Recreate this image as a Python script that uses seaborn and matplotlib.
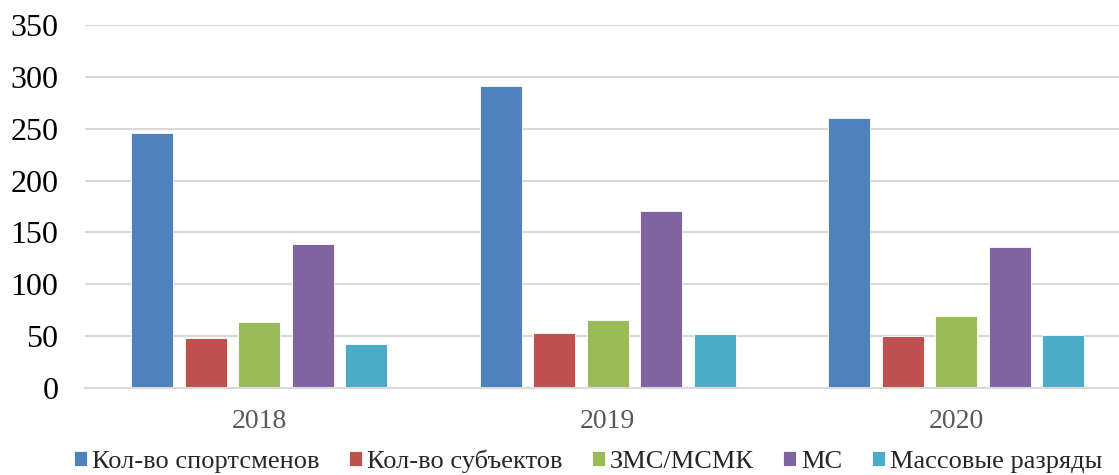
import matplotlib
matplotlib.use("Agg")
import matplotlib.pyplot as plt
import seaborn as sns
import pandas as pd

# Data
years = ["2018", "2019", "2020"]
series = ["Кол-во спортсменов", "Кол-во субъектов", "ЗМС/МСМК", "МС", "Массовые разряды"]
athletes = [246, 291, 260]
regions = [48, 53, 50]
zms_msmk = [63, 65, 69]
ms = [139, 171, 136]
mass_ranks = [42, 52, 51]
y_ticks = [0, 50, 100, 150, 200, 250, 300, 350]

colors = ["#4F81BD", "#C0504D", "#9BBB59", "#8064A2", "#4BACC6"]

values = [athletes, regions, zms_msmk, ms, mass_ranks]
rows = []
for name, vals in zip(series, values):
    for yr, v in zip(years, vals):
        rows.append({"year": yr, "series": name, "value": v})
df = pd.DataFrame(rows)

sns.set_theme(style="white")
plt.rcParams["font.family"] = ["Liberation Serif", "DejaVu Serif"]

W, H = 1119, 475
fig = plt.figure(figsize=(W / 100, H / 100), dpi=100)
left_px, right_px = 85, 1130.5
bottom_px, top_px = 387.7, 25.3
ax = fig.add_axes([left_px / W, (H - bottom_px) / H,
                   (right_px - left_px) / W, (bottom_px - top_px) / H])

sns.barplot(data=df, x="year", y="value", hue="series", hue_order=series,
            order=years, palette=colors, saturation=1, width=0.768, gap=0.215,
            edgecolor="#ffffff", linewidth=0.6, ax=ax, legend=True)

ax.set_ylim(0, 350)
ax.set_xlim(-0.5, 2.5)
ax.set_yticks(y_ticks)
ax.yaxis.grid(True, color="#d9d9d9", linewidth=1.5)
ax.set_axisbelow(True)
for s in ["left", "right", "top"]:
    ax.spines[s].set_visible(False)
ax.spines["bottom"].set_color("#d9d9d9")
ax.spines["bottom"].set_linewidth(1.5)
ax.set_xlabel("")
ax.set_ylabel("")
ax.tick_params(axis="y", length=0, pad=19, labelsize=23, labelcolor="black")
ax.tick_params(axis="x", length=0, pad=15, labelsize=20, labelcolor="#595959")

handles, labels = ax.get_legend_handles_labels()
ax.get_legend().remove()
fig.legend(handles, labels, loc="center", bbox_to_anchor=(588 / W, 1 - 461 / H),
           ncol=5, frameon=False, fontsize=19, handlelength=0.5, handleheight=0.5,
           handletextpad=0.2, columnspacing=1.1, borderaxespad=0)

fig.savefig("out.png", dpi=100)
